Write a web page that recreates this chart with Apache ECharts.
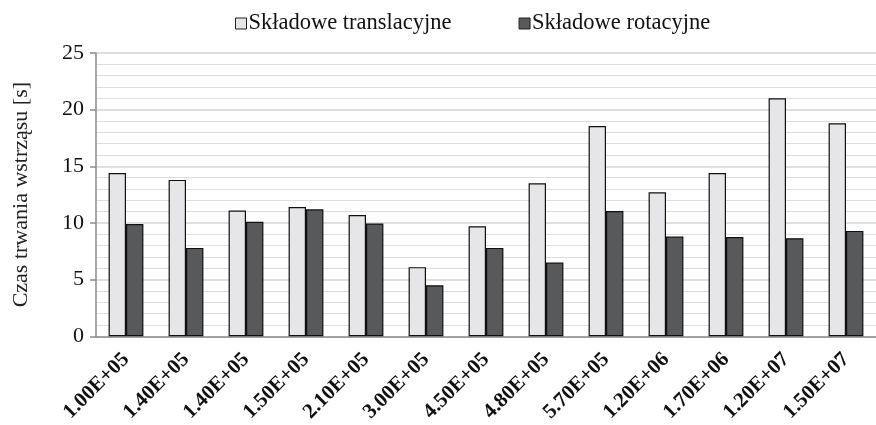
<!DOCTYPE html>
<html>
<head>
<meta charset="utf-8">
<script src="https://cdn.jsdelivr.net/npm/echarts@6/dist/echarts.min.js"></script>
<style>
  html, body { margin: 0; padding: 0; background: #fff; }
  #chart { width: 876px; height: 425px; }
</style>
</head>
<body>
<div id="chart"></div>
<script>
// energia wstrząsu [J]
const categories = ['1.00E+05', '1.40E+05', '1.40E+05', '1.50E+05', '2.10E+05', '3.00E+05', '4.50E+05',
  '4.80E+05', '5.70E+05', '1.20E+06', '1.70E+06', '1.20E+07', '1.50E+07']
const translacyjne = [14.4, 13.8, 11.1, 11.4, 10.7, 6.1, 9.7, 13.5, 18.55, 12.7, 14.4, 21.0, 18.8]
const rotacyjne = [9.9, 7.8, 10.1, 11.2, 9.95, 4.5, 7.8, 6.5, 11.05, 8.8, 8.75, 8.65, 9.3]
const yTicks = [0, 5, 10, 15, 20, 25]

const font = 'Liberation Serif'
const chart = echarts.init(document.getElementById('chart'))

chart.setOption({
  animation: false,
  textStyle: { fontFamily: font },
  legend: {
    top: 7,
    left: 230,
    itemGap: 67,
    icon: 'rect',
    itemWidth: 11,
    itemHeight: 11,
    itemStyle: { borderColor: '#222', borderWidth: 1 },
    textStyle: { fontFamily: font, fontSize: 22.5, color: '#111', padding: [0, 0, 0, -3] },
    data: ['Składowe translacyjne', 'Składowe rotacyjne']
  },
  grid: { left: 96, top: 53, right: -9, bottom: 87, containLabel: false },
  xAxis: {
    type: 'category',
    data: categories,
    axisLine: { lineStyle: { color: '#8c8c8c', width: 1.5 } },
    axisTick: { length: 6, lineStyle: { color: '#8c8c8c', width: 1.5 } },
    axisLabel: {
      rotate: 45,
      margin: 20,
      interval: 0,
      fontFamily: font,
      fontSize: 21,
      fontWeight: 'bold',
      color: '#111'
    }
  },
  yAxis: {
    type: 'value',
    min: yTicks[0],
    max: yTicks[yTicks.length - 1],
    interval: 5,
    name: 'Czas trwania wstrząsu [s]',
    nameLocation: 'middle',
    nameGap: 64,
    nameTextStyle: { fontFamily: font, fontSize: 22, color: '#222' },
    axisLine: { show: true, lineStyle: { color: '#8c8c8c', width: 1.5 } },
    axisTick: { show: true, length: 6, lineStyle: { color: '#8c8c8c', width: 1.5 } },
    axisLabel: { fontFamily: font, fontSize: 22, color: '#111', margin: 12 },
    splitLine: { show: true, lineStyle: { color: '#d4d4d4', width: 1.5 } },
    minorTick: { show: false, splitNumber: 5 },
    minorSplitLine: { show: true, lineStyle: { color: '#dedede', width: 1 } }
  },
  series: [
    {
      name: 'Składowe translacyjne',
      type: 'bar',
      data: translacyjne,
      barGap: '0%',
      barCategoryGap: '42%',
      itemStyle: { color: '#e6e6e8', borderColor: '#111', borderWidth: 1.2 }
    },
    {
      name: 'Składowe rotacyjne',
      type: 'bar',
      data: rotacyjne,
      itemStyle: { color: '#58595b', borderColor: '#111', borderWidth: 1.2 }
    }
  ]
})
</script>
</body>
</html>
